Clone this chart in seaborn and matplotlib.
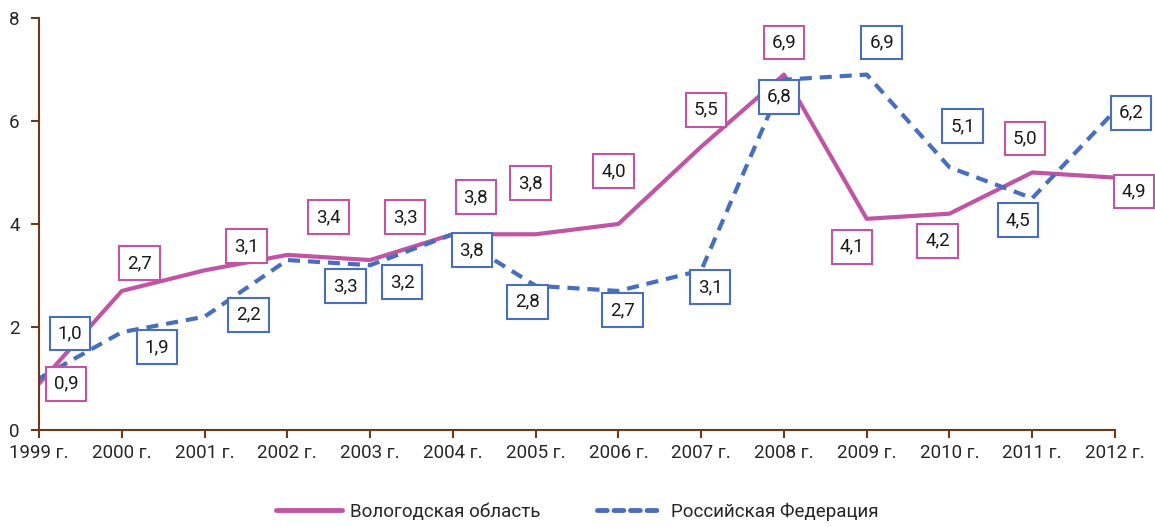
import matplotlib
matplotlib.use("Agg")
import matplotlib.pyplot as plt
import numpy as np
import pandas as pd
import seaborn as sns
from matplotlib.lines import Line2D

years = ["1999 г.", "2000 г.", "2001 г.", "2002 г.", "2003 г.", "2004 г.", "2005 г.",
         "2006 г.", "2007 г.", "2008 г.", "2009 г.", "2010 г.", "2011 г.", "2012 г."]
vologda = [0.9, 2.7, 3.1, 3.4, 3.3, 3.8, 3.8, 4.0, 5.5, 6.9, 4.1, 4.2, 5.0, 4.9]
russia = [1.0, 1.9, 2.2, 3.3, 3.2, 3.8, 2.8, 2.7, 3.1, 6.8, 6.9, 5.1, 4.5, 6.2]
series_names = ["Вологодская область", "Российская Федерация"]

# label offsets in pixels (placement only)
off_v = [(27, 0), (18, 28), (42, 24), (41, 38), (35, 43), (23, 37), (-5, 51),
         (-5, 53), (5, 37), (0, 32), (-15, -28), (-12, -27), (-7, 34), (19, -14)]
off_r = [(31, 45), (35, -15), (44, 2), (58, -26), (32, -17), (19, -16), (-8, -16),
         (4, -19), (9, -17), (-5, -17), (15, 32), (13, 41), (-14, -22), (16, -2)]

df = pd.concat([
    pd.DataFrame({"x": np.arange(len(years)), "val": vologda, "series": series_names[0]}),
    pd.DataFrame({"x": np.arange(len(years)), "val": russia, "series": series_names[1]}),
])

sns.set_style("white")
plt.rcParams["font.family"] = ["Roboto", "DejaVu Sans"]

c_mag = "#C055A4"
c_blue = "#4A6EBE"
brown = "#6B3A1A"
fs = 13.5

fig = plt.figure(figsize=(11.55, 5.27), dpi=100)
ax = fig.add_axes([0.0338, 0.184, 0.9316, 0.782])

sns.lineplot(data=df, x="x", y="val", hue="series", style="series",
             palette={series_names[0]: c_mag, series_names[1]: c_blue},
             dashes={series_names[0]: "", series_names[1]: (2.9, 1.9)},
             linewidth=3, ax=ax, legend=False)
for ln in ax.get_lines():
    ln.set_dash_capstyle("butt")

for vals, offs, col in [(vologda, off_v, c_mag), (russia, off_r, c_blue)]:
    for i, (v, o) in enumerate(zip(vals, offs)):
        ax.annotate(f"{v:.1f}".replace(".", ","), (i, v), xytext=o,
                    textcoords="offset pixels", ha="center", va="center",
                    fontsize=fs, color="#1a1a1a",
                    bbox=dict(boxstyle="square,pad=0.42", fc="white", ec=col, lw=1.5))

ax.set_xlim(0, len(years) - 1)
ax.set_ylim(0, 8)
ax.set_xticks(np.arange(len(years)))
ax.set_xticklabels(years)
ax.set_yticks([0, 2, 4, 6, 8])
ax.set_xlabel("")
ax.set_ylabel("")
for s in ["top", "right"]:
    ax.spines[s].set_visible(False)
for s in ["left", "bottom"]:
    ax.spines[s].set_color(brown)
    ax.spines[s].set_linewidth(1.5)
ax.tick_params(axis="both", direction="out", length=6, width=1.5, color=brown,
               bottom=True, left=True, labelsize=fs, labelcolor="#262626", pad=4)
ax.tick_params(axis="y", pad=8)

handles = [Line2D([], [], color=c_mag, lw=3.5, solid_capstyle="round"),
           Line2D([], [], color=c_blue, lw=3.5, linestyle=(0, (2.0, 1.4)), dash_capstyle="round")]
fig.legend(handles, series_names, loc="lower center", bbox_to_anchor=(0.5, -0.02),
           ncol=2, frameon=False, fontsize=fs, handlelength=3.5, handletextpad=0.45,
           columnspacing=3.0)

fig.savefig("out.png", dpi=100)
